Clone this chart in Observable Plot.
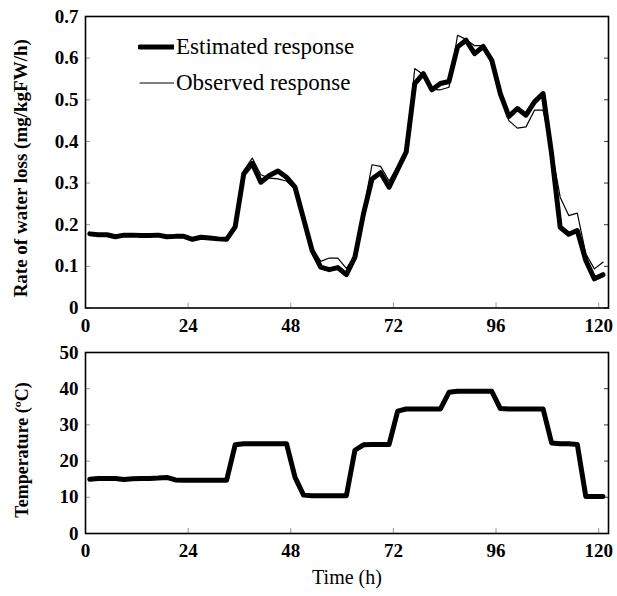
<!DOCTYPE html>
<html>
<head>
<meta charset="utf-8">
<script src="https://cdn.jsdelivr.net/npm/d3@7"></script>
<script src="https://cdn.jsdelivr.net/npm/@observablehq/plot@0.6"></script>
<style>
  html, body { margin: 0; padding: 0; background: #fff; }
  #wrap { position: relative; width: 617px; height: 596px; font-family: "Liberation Serif", "Times New Roman", serif; }
  #topPanel, #botPanel { position: absolute; left: 0; }
  #topPanel { top: 0; }
  #botPanel { top: 340px; }
  .leg { position: absolute; left: 138px; height: 26px; display: flex; align-items: center; font-size: 23px; color: #000; white-space: nowrap; }
  .leg svg { margin-right: 2px; }
</style>
</head>
<body>
<div id="wrap">
  <div id="topPanel"></div>
  <div id="botPanel"></div>
  <div class="leg" id="leg1" style="top:34px"></div>
  <div class="leg" id="leg2" style="top:70px"></div>
</div>
<script>
// Time points (h)
const hours = [1,3,5,7,9,11,13,15,17,19,21,23,25,27,29,31,33,35,37,39,41,43,45,47,49,51,53,55,57,59,61,63,65,67,69,71,73,75,77,79,81,83,85,87,89,91,93,95,97,99,101,103,105,107,109,111,113,115,117,119,121];

// Rate of water loss (mg/kgFW/h)
const estimated = [0.178,0.176,0.176,0.171,0.175,0.175,0.174,0.174,0.175,0.171,0.172,0.172,0.165,0.170,0.168,0.166,0.165,
  0.195,0.322,0.347,0.302,0.318,0.329,0.314,0.290,0.214,0.138,0.098,0.092,0.097,0.080,0.122,0.226,0.310,0.325,0.290,
  0.333,0.375,0.539,0.563,0.524,0.539,0.544,0.627,0.643,0.611,0.628,0.595,0.515,0.460,0.479,0.463,0.495,0.515,
  0.370,0.194,0.177,0.186,0.114,0.070,0.080];
const observed = [0.178,0.176,0.176,0.172,0.175,0.175,0.174,0.174,0.175,0.172,0.172,0.172,0.166,0.170,0.168,0.166,0.165,
  0.195,0.330,0.360,0.320,0.312,0.310,0.305,0.285,0.210,0.145,0.112,0.120,0.120,0.095,0.125,0.235,0.344,0.340,0.305,
  0.340,0.380,0.575,0.560,0.525,0.524,0.530,0.655,0.645,0.630,0.630,0.595,0.510,0.450,0.432,0.435,0.475,0.475,
  0.380,0.266,0.222,0.228,0.130,0.094,0.110];

// Temperature (ºC)
const temperature = [15.0,15.2,15.2,15.2,14.9,15.1,15.2,15.2,15.3,15.5,14.8,14.7,14.7,14.7,14.7,14.7,14.7,
  24.5,24.8,24.8,24.8,24.8,24.8,24.8,15.5,10.6,10.4,10.4,10.4,10.4,10.4,23.0,24.5,24.6,24.6,24.6,
  33.8,34.4,34.4,34.4,34.4,34.4,39.0,39.3,39.3,39.3,39.3,39.3,34.5,34.4,34.4,34.4,34.4,34.4,
  25.0,24.8,24.8,24.6,10.2,10.2,10.2];

const xTicks = [0,24,48,72,96,120];
const xTickLabels = ["0","24","48","72","96","120"];
const yTopTicks = [0,0.1,0.2,0.3,0.4,0.5,0.6,0.7];
const yTopLabels = ["0","0.1","0.2","0.3","0.4","0.5","0.6","0.7"];
const yBotTicks = [0,10,20,30,40,50];
const yBotLabels = ["0","10","20","30","40","50"];
const seriesNames = ["Estimated response","Observed response"];
const yTitleTop = "Rate of water loss (mg/kgFW/h)";
const yTitleBot = "Temperature (ºC)";
const xTitle = "Time (h)";

const estRows = hours.map((t,i) => ({t, v: estimated[i]}));
const obsRows = hours.map((t,i) => ({t, v: observed[i]}));
const tempRows = hours.map((t,i) => ({t, v: temperature[i]}));

const font = '"Liberation Serif", "Times New Roman", serif';
const baseStyle = {fontFamily: font, fontSize: "19px", fontWeight: "bold", color: "black", background: "white", overflow: "visible"};
const xDomain = [0, 122.3];

function axes(yTicks, yLabels) {
  return [
    Plot.axisX({ticks: xTicks, tickSize: 0, tickPadding: 10, tickFormat: (d,i) => xTickLabels[i], label: null}),
    Plot.axisX({ticks: xTicks, tickSize: -5, tickFormat: () => "", label: null, stroke: "#999"}),
    Plot.axisY({ticks: yTicks, tickSize: 0, tickPadding: 7, tickFormat: (d,i) => yLabels[i], label: null}),
    Plot.axisY({ticks: yTicks, tickSize: -5, tickFormat: () => "", label: null, stroke: "#999"}),
    Plot.axisY({anchor: "right", ticks: yTicks, tickSize: -5, tickFormat: () => "", label: null, stroke: "#333"}),
    Plot.frame({stroke: "black", strokeWidth: 1.6})
  ];
}

const topChart = Plot.plot({
  width: 617, height: 340,
  marginTop: 16, marginBottom: 32.5, marginLeft: 85, marginRight: 9,
  style: baseStyle,
  x: {domain: xDomain},
  y: {domain: [0, 0.7]},
  marks: [
    ...axes(yTopTicks, yTopLabels),
    Plot.line(obsRows, {x: "t", y: "v", stroke: "black", strokeWidth: 1.2}),
    Plot.line(estRows, {x: "t", y: "v", stroke: "black", strokeWidth: 5, strokeLinejoin: "round", strokeLinecap: "round"}),
    Plot.text([yTitleTop], {text: d => d, frameAnchor: "left", textAnchor: "middle", rotate: -90, dx: -65, dy: 6, fontSize: 19, fontWeight: "bold"})
  ]
});
document.getElementById("topPanel").appendChild(topChart);

const botChart = Plot.plot({
  width: 617, height: 256,
  marginTop: 12, marginBottom: 63, marginLeft: 85, marginRight: 9,
  style: baseStyle,
  x: {domain: xDomain},
  y: {domain: [0, 50]},
  marks: [
    ...axes(yBotTicks, yBotLabels),
    Plot.line(tempRows, {x: "t", y: "v", stroke: "black", strokeWidth: 5, strokeLinejoin: "round", strokeLinecap: "round"}),
    Plot.text([yTitleBot], {text: d => d, frameAnchor: "left", textAnchor: "middle", rotate: -90, dx: -63, dy: 7, fontSize: 18, fontWeight: "bold"}),
    Plot.text([xTitle], {text: d => d, frameAnchor: "bottom", dy: 50, fontSize: 20, fontWeight: "normal"})
  ]
});
document.getElementById("botPanel").appendChild(botChart);

// Legend (inside the top panel)
const widths = [5, 1.2];
["leg1","leg2"].forEach((id, i) => {
  const el = document.getElementById(id);
  el.innerHTML = `<svg width="36" height="26"><line x1="2" x2="36" y1="13" y2="13" stroke="black" stroke-width="${widths[i]}" stroke-linecap="round"/></svg><span>${seriesNames[i]}</span>`;
});
</script>
</body>
</html>
